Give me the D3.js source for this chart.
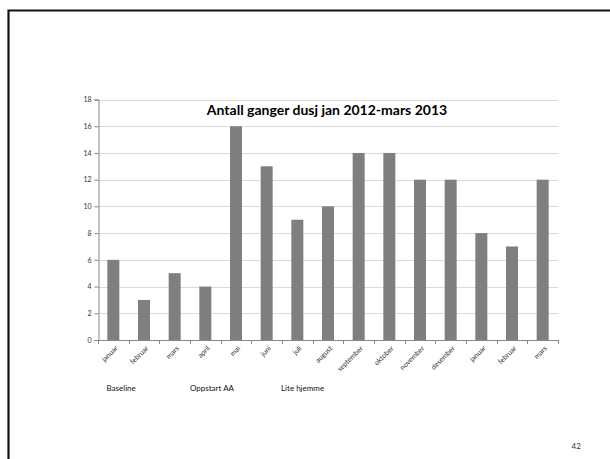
<!DOCTYPE html>
<html><head><meta charset="utf-8">
<script src="https://cdn.jsdelivr.net/npm/d3@7"></script>
<style>body{margin:0;background:#fff}svg{display:block}</style>
</head><body>
<script>
const months = ["januar","februar","mars","april","mai","juni","juli","august","september","oktober","november","desember","januar","februar","mars"];
const values = [6,3,5,4,16,13,9,10,14,14,12,12,8,7,12];
const yTicks = [0,2,4,6,8,10,12,14,16,18];
const phaseLabels = ["Baseline","Oppstart AA","Lite hjemme"];
const title = "Antall ganger dusj jan 2012-mars 2013";
const pageNumber = "42";

(function(){
const W = 610, H = 459;
const svg = d3.select("body").append("svg").attr("width", W).attr("height", H);
const font = "Lato, 'Open Sans', sans-serif";

// slide frame
svg.append("path").attr("d", `M8.5,${H+5} L8.5,10.5 L${W+5},10.5`)
  .attr("fill","none").attr("stroke","#111").attr("stroke-width",2.2);

const pL = 98, pR = 558, pT = 99.5, pB = 340;
const xb = d3.scaleBand().domain(d3.range(months.length)).range([pL, pR]);
const y = d3.scaleLinear().domain([0,18]).range([pB, pT]);

// gridlines
svg.append("g").selectAll("line").data(yTicks.filter(d=>d>0)).join("line")
  .attr("x1", pL).attr("x2", pR).attr("y1", d=>Math.round(y(d))+0.5).attr("y2", d=>Math.round(y(d))+0.5)
  .attr("stroke","#d9d9d9").attr("stroke-width",1);

// bars
svg.append("g").selectAll("rect").data(values).join("rect")
  .attr("x", (d,i)=>xb(i) + xb.bandwidth()/2 - 6)
  .attr("width", 12)
  .attr("y", d=>y(d)).attr("height", d=>y(0)-y(d))
  .attr("fill","#7f7f7f");

// y axis
const yAxis = d3.axisLeft(y).tickValues(yTicks).tickSize(4).tickPadding(3);
const gy = svg.append("g").attr("transform", `translate(${pL+0.5},0)`).call(yAxis);
gy.select(".domain").attr("stroke","#868686");
gy.selectAll(".tick line").attr("stroke","#868686");
gy.selectAll(".tick text").attr("font-family", font).attr("font-size", 7).attr("fill","#333");

// x axis with ticks at band boundaries
svg.append("line").attr("x1", pL).attr("x2", pR).attr("y1", pB+0.5).attr("y2", pB+0.5).attr("stroke","#868686");
svg.append("g").selectAll("line").data(d3.range(months.length+1)).join("line")
  .attr("x1", i=> Math.round(i<months.length? xb(i) : pR)+0.5).attr("x2", i=> Math.round(i<months.length? xb(i) : pR)+0.5)
  .attr("y1", pB).attr("y2", pB+4).attr("stroke","#868686");

svg.append("g").selectAll("text").data(months).join("text")
  .attr("transform", (d,i)=>`translate(${xb(i)+xb.bandwidth()/2+3},${pB+7}) rotate(-45)`)
  .attr("text-anchor","end").attr("dy","0.35em")
  .attr("font-family", font).attr("font-size", 7).attr("fill","#333")
  .text(d=>d);

// title
svg.append("text").attr("x", 327).attr("y", 114.5).attr("text-anchor","middle")
  .attr("font-family", font).attr("font-weight","bold").attr("font-size", 14).attr("fill","#000")
  .text(title);

// phase labels
const phaseX = [106.5, 190, 281];
svg.append("g").selectAll("text").data(phaseLabels).join("text")
  .attr("x", (d,i)=>phaseX[i]).attr("y", 390.5)
  .attr("font-family", font).attr("font-size", 8).attr("fill","#111")
  .text(d=>d);

// page number
svg.append("text").attr("x", 571.5).attr("y", 448.5)
  .attr("font-family", font).attr("font-size", 8).attr("fill","#333").text(pageNumber);
})();
</script>
</body></html>
